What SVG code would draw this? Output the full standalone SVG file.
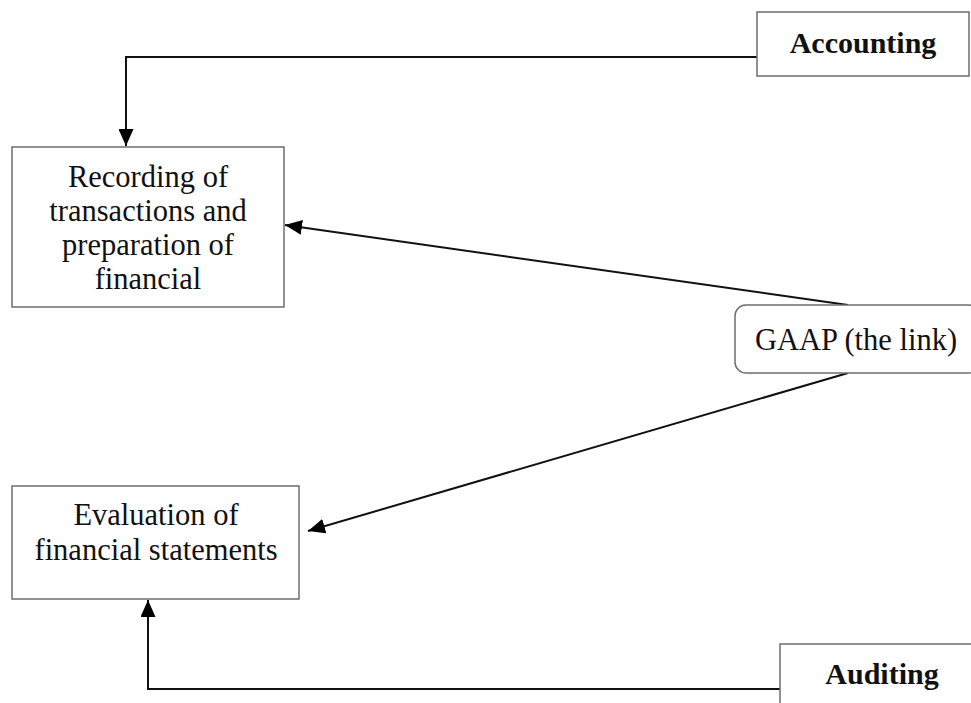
<svg xmlns="http://www.w3.org/2000/svg" width="971" height="703" viewBox="0 0 971 703">
<style>
.box{fill:#fff;stroke:#6e6e6e;stroke-width:1.5}
.t{font-family:"Liberation Serif","Times New Roman",serif;font-size:30.5px;fill:#111;text-anchor:middle}
.b{font-weight:bold;font-size:30px}
.c{fill:none;stroke:#111;stroke-width:2}
</style>
<defs>
<marker id="ah" markerUnits="userSpaceOnUse" markerWidth="17" markerHeight="15" viewBox="0 0 17 15" refX="17" refY="7.5" orient="auto">
<path d="M0,0 L17,7.5 L0,15 Z" fill="#000"/>
</marker>
</defs>
<rect width="971" height="703" fill="#fff"/>
<g id="connectors">
<path class="c" d="M757,57 L126,57 L126,146" marker-end="url(#ah)"/>
<path class="c" d="M848,305 L285,225" marker-end="url(#ah)"/>
<path class="c" d="M848,373 L308,531" marker-end="url(#ah)"/>
<path class="c" d="M780,689 L148,689 L148,600" marker-end="url(#ah)"/>
</g>
<g id="accounting">
<rect class="box" x="757" y="12" width="212" height="64"/>
<text class="t b" x="863" y="53">Accounting</text>
</g>
<g id="recording">
<rect class="box" x="12" y="147" width="272" height="160"/>
<text class="t" x="148" y="187">Recording of</text>
<text class="t" x="148" y="221">transactions and</text>
<text class="t" x="148" y="255">preparation of</text>
<text class="t" x="148" y="289">financial</text>
</g>
<g id="gaap">
<rect class="box" x="735" y="305" width="245" height="68" rx="11" ry="11"/>
<text class="t" x="856" y="350">GAAP (the link)</text>
</g>
<g id="evaluation">
<rect class="box" x="12" y="486" width="287" height="113"/>
<text class="t" x="156" y="525">Evaluation of</text>
<text class="t" x="156" y="560">financial statements</text>
</g>
<g id="auditing">
<rect class="box" x="780" y="644" width="210" height="70"/>
<text class="t b" x="882" y="684">Auditing</text>
</g>
</svg>
